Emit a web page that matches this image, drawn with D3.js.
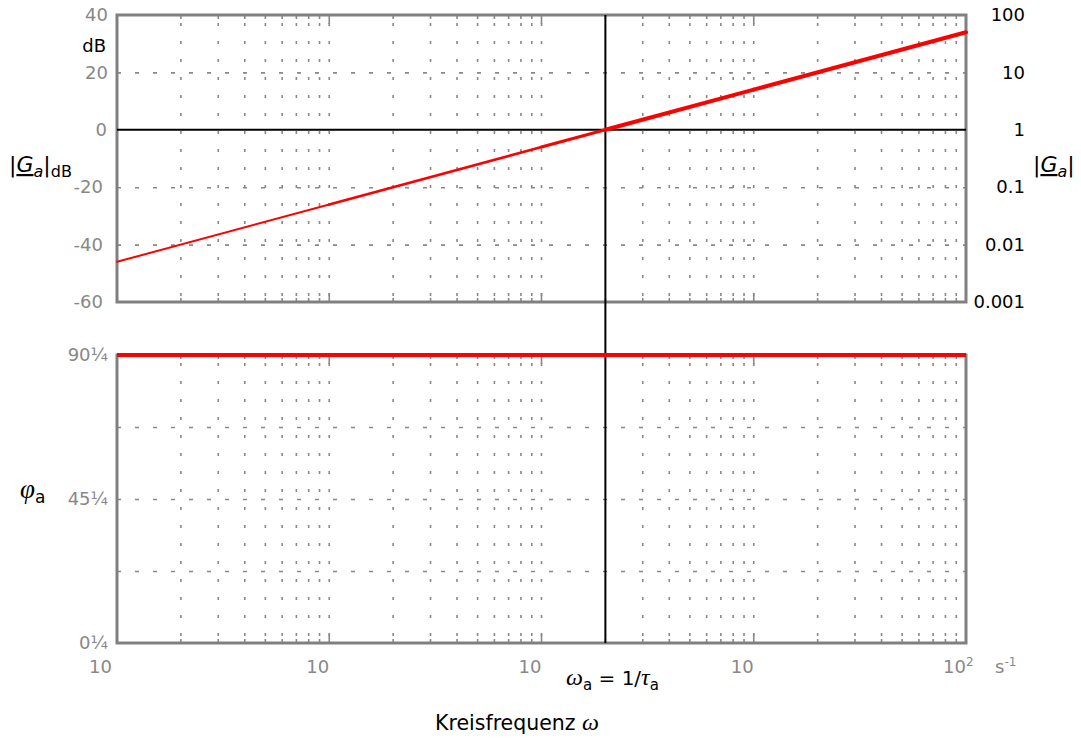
<html>
<head>
<script src="https://d3js.org/d3.v7.min.js"></script>
<style>
body { margin: 0; background: #fff; font-family: 'DejaVu Sans', sans-serif; }
svg { display: block; }
.tick text { font-family: 'DejaVu Sans', sans-serif; }
.grid path { display: none; }
</style>
</head>
<body>
<div id="chart"></div>
<script>
// magnitude curve
var magOmega = [0.01, 0.1, 1, 2, 10, 100];
var magDb = [-46, -26, -6, 0, 14, 34];
// phase curve
var phaseOmega = [0.01, 100];
var phaseDeg = [90, 90];

var omegaA = 2;

var dbTicks = [40, 20, 0, -20, -40, -60];
var dbGrid = [20, -20, -40];
var gainTicks = [100, 10, 1, 0.1, 0.01, 0.001];
var gainLabels = ["100", "10", "1", "0.1", "0.01", "0.001"];
var phaseTicks = [90, 45, 0];
var phaseLabels = ["90¼", "45¼", "0¼"];
var phaseGrid = [67.5, 45, 22.5];
var decades = [0.01, 0.1, 1, 10, 100];
var decadeLabels = ["10", "10", "10", "10", "10"];
var decadeSup = ["", "", "", "", "2"];

var W = 1081, H = 740;
var left = 117, right = 966;
var magTop = 15, magBot = 302, phTop = 355, phBot = 643;
var grey = "#888", frame = "#808080";
var serif = "'Liberation Serif', serif";

var svg = d3.select("#chart").append("svg").attr("width", W).attr("height", H);

var x = d3.scaleLog().domain([0.01, 100]).range([left, right]);
var yMag = d3.scaleLinear().domain([-60, 40]).range([magBot, magTop]);
var yGain = d3.scaleLog().domain([0.001, 100]).range([magBot, magTop]);
var yPh = d3.scaleLinear().domain([0, 90]).range([phBot, phTop]);

// inner minor/major x positions (without the frame edges)
var xGridVals = x.ticks().filter(function(d) { return d > 0.01 && d < 100 && Math.abs(d - omegaA) > 1e-9; });

function vGrid(y0, y1) {
  svg.append("g").selectAll("line").data(xGridVals).enter().append("line")
    .attr("x1", function(d) { return x(d); }).attr("x2", function(d) { return x(d); })
    .attr("y1", y0 + 8).attr("y2", y1)
    .attr("stroke", grey).attr("stroke-width", 1.6)
    .attr("stroke-dasharray", "3,15");
}
vGrid(magTop, magBot);
vGrid(phTop, phBot);

// horizontal dashed grid
svg.append("g").call(d3.axisLeft(yMag).tickValues(dbGrid).tickSize(-(right - left)).tickFormat(""))
  .attr("transform", "translate(" + left + ",0)").attr("class", "grid")
  .selectAll("line").attr("stroke", grey).attr("stroke-width", 1.6).attr("stroke-dasharray", "4,14");
svg.append("g").call(d3.axisLeft(yPh).tickValues(phaseGrid).tickSize(-(right - left)).tickFormat(""))
  .attr("transform", "translate(" + left + ",0)").attr("class", "grid")
  .selectAll("line").attr("stroke", grey).attr("stroke-width", 1.6).attr("stroke-dasharray", "4,14");

// edge ticks on top/bottom of each panel
function edgeTicks(y, dir) {
  svg.append("g").selectAll("line").data(x.ticks().filter(function(d) { return d > 0.01 && d < 100; }))
    .enter().append("line")
    .attr("x1", function(d) { return x(d); }).attr("x2", function(d) { return x(d); })
    .attr("y1", y)
    .attr("y2", function(d) { return y + dir * (decades.indexOf(d) >= 0 ? 9 : 4); })
    .attr("stroke", grey).attr("stroke-width", 1.6);
}
edgeTicks(magTop, 1); edgeTicks(magBot, -1); edgeTicks(phTop, 1); edgeTicks(phBot, -1);

// frames
svg.append("rect").attr("x", left).attr("y", magTop).attr("width", right - left).attr("height", magBot - magTop)
  .attr("fill", "none").attr("stroke", frame).attr("stroke-width", 3);
svg.append("rect").attr("x", left).attr("y", phTop).attr("width", right - left).attr("height", phBot - phTop)
  .attr("fill", "none").attr("stroke", frame).attr("stroke-width", 3);

// black reference lines
svg.append("line").attr("x1", left).attr("x2", right).attr("y1", yMag(0)).attr("y2", yMag(0))
  .attr("stroke", "#000").attr("stroke-width", 2);
svg.append("line").attr("x1", x(omegaA)).attr("x2", x(omegaA)).attr("y1", magTop).attr("y2", phBot)
  .attr("stroke", "#000").attr("stroke-width", 2);

// magnitude: segment by segment, getting heavier to the right like the original
var magPts = magOmega.map(function(w, i) { return [w, magDb[i]]; });
var segW = [2, 2.6, 3.2, 4, 4];
var line = d3.line().x(function(d) { return x(d[0]); }).y(function(d) { return yMag(d[1]); });
for (var i = 0; i < magPts.length - 1; i++) {
  svg.append("path").attr("d", line([magPts[i], magPts[i + 1]]))
    .attr("fill", "none").attr("stroke", "#ff0000").attr("stroke-width", segW[i]).attr("stroke-linecap", "round");
}
var phPts = phaseOmega.map(function(w, i) { return [w, phaseDeg[i]]; });
svg.append("path").attr("d", d3.line().x(function(d) { return x(d[0]); }).y(function(d) { return yPh(d[1]); })(phPts))
  .attr("fill", "none").attr("stroke", "#ff0000").attr("stroke-width", 4);

// axis labels
function styleAxis(g, color) {
  g.select(".domain").remove();
  g.selectAll(".tick line").remove();
  g.selectAll(".tick text").attr("fill", color).style("font-size", "18px");
}
svg.append("g").attr("transform", "translate(" + (left - 9) + ",0)")
  .call(d3.axisLeft(yMag).tickValues(dbTicks).tickSize(0).tickPadding(0))
  .call(function(g) {
    styleAxis(g, grey);
    g.selectAll(".tick text").text(function(d) { return d < 0 ? "-" + (-d) : d; })
      .attr("dx", function(d) { return d < 0 ? -5 : (d === 0 ? -1 : 0); });
  });
svg.append("g").attr("transform", "translate(" + (right + 59) + ",0)")
  .call(d3.axisLeft(yGain).tickValues(gainTicks).tickSize(0).tickPadding(0)
    .tickFormat(function(d, i) { return gainLabels[i]; }))
  .call(function(g) { styleAxis(g, "#000"); });
svg.append("g").attr("transform", "translate(" + (left - 9) + ",0)")
  .call(d3.axisLeft(yPh).tickValues(phaseTicks).tickSize(0).tickPadding(0)
    .tickFormat(function(d, i) { return phaseLabels[i]; }))
  .call(function(g) { styleAxis(g, grey); });

var xl = svg.append("g").selectAll("text").data(decades).enter().append("text")
  .attr("x", function(d, i) { return x(d) - (i === 0 ? 28 : 23); })
  .attr("y", 673).attr("fill", grey).style("font-size", "18px");
xl.append("tspan").text(function(d, i) { return decadeLabels[i]; });
xl.append("tspan").attr("dy", -7).style("font-size", "12px").text(function(d, i) { return decadeSup[i]; });
var unit = svg.append("text").attr("x", 995).attr("y", 673).attr("fill", grey).style("font-size", "18px");
unit.append("tspan").text("s");
unit.append("tspan").attr("dy", -7).style("font-size", "12px").text("-1");

// titles
svg.append("text").attr("x", 106).attr("y", 52).attr("text-anchor", "end")
  .style("font-size", "18px").text("dB");

var gl = svg.append("text").attr("x", 9).attr("y", 172).style("font-size", "22px");
gl.append("tspan").text("|");
gl.append("tspan").style("font-style", "italic").attr("text-decoration", "underline").text("G");
gl.append("tspan").style("font-style", "italic").style("font-size", "16px").attr("dy", 5).text("a");
gl.append("tspan").attr("dy", -5).text("|");
gl.append("tspan").style("font-size", "16px").attr("dy", 5).text("dB");

var gr = svg.append("text").attr("x", 1033).attr("y", 172).style("font-size", "22px");
gr.append("tspan").text("|");
gr.append("tspan").style("font-style", "italic").attr("text-decoration", "underline").text("G");
gr.append("tspan").style("font-style", "italic").style("font-size", "16px").attr("dy", 5).text("a");
gr.append("tspan").attr("dy", -5).text("|");

var ph = svg.append("text").attr("x", 20).attr("y", 498).style("font-size", "19px");
ph.append("tspan").style("font-family", serif).style("font-style", "italic").style("font-size", "27px").text("φ");
ph.append("tspan").style("font-size", "17px").attr("dy", 5).text("a");

var wa = svg.append("text").attr("x", 566).attr("y", 685).style("font-size", "20px");
wa.append("tspan").style("font-family", serif).style("font-style", "italic").style("font-size", "24px").text("ω");
wa.append("tspan").style("font-size", "15px").attr("dy", 5).text("a");
wa.append("tspan").attr("dy", -5).text(" = 1/");
wa.append("tspan").style("font-family", serif).style("font-style", "italic").style("font-size", "24px").text("τ");
wa.append("tspan").style("font-size", "15px").attr("dy", 5).text("a");

var kf = svg.append("text").attr("x", 435).attr("y", 730).style("font-size", "20.5px");
kf.append("tspan").text("Kreisfrequenz ");
kf.append("tspan").style("font-family", serif).style("font-style", "italic").style("font-size", "24px").text("ω");
</script>
</body>
</html>
